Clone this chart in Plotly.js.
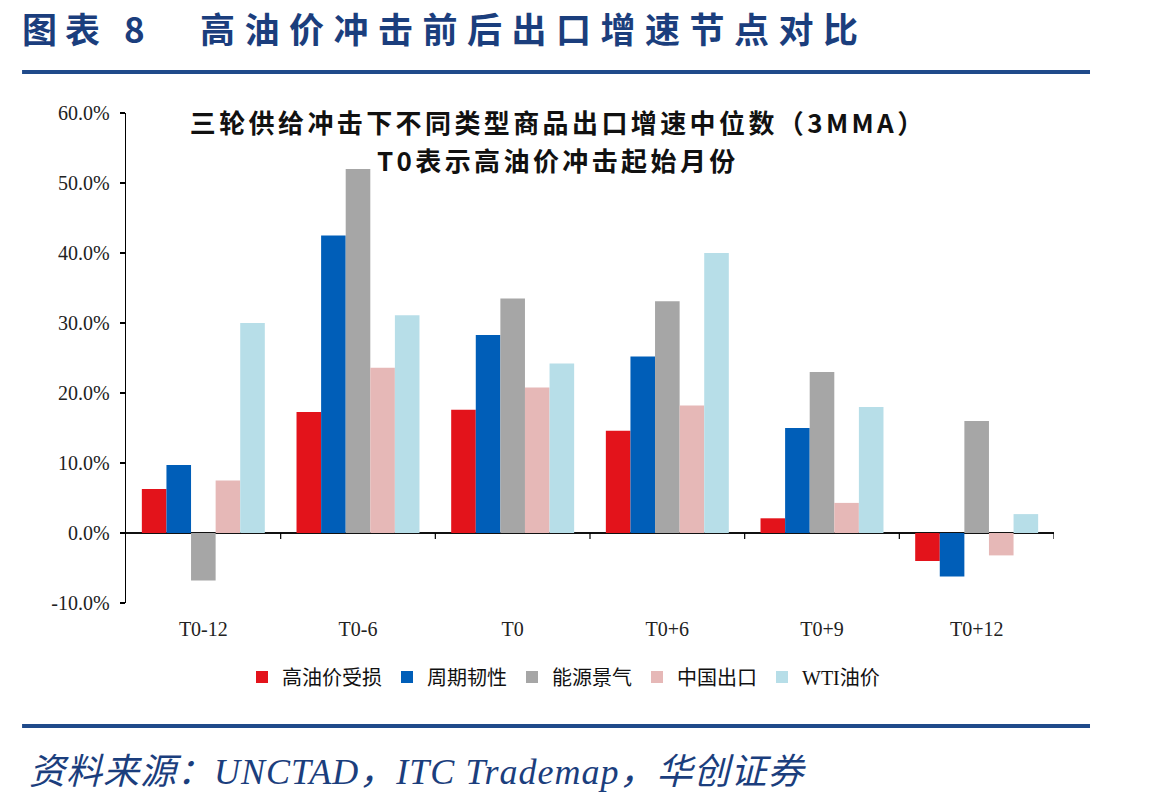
<!DOCTYPE html>
<html>
<head>
<meta charset="utf-8">
<script src="https://cdn.plot.ly/plotly-3.0.1.min.js"></script>
<style>
  html, body { margin: 0; padding: 0; background: #fff; }
  #chart { width: 1149px; height: 804px; }
  /* wider tracking for the figure heading, chart title and the source line */
  .annotation[data-index="0"] .annotation-text { letter-spacing: 8px; }
  .annotation[data-index="1"] .annotation-text { letter-spacing: 9.5px; }
  .annotation[data-index="2"] .annotation-text,
  .annotation[data-index="3"] .annotation-text { letter-spacing: 3.4px; }
  .annotation[data-index="4"] .annotation-text { letter-spacing: 1px; }
</style>
</head>
<body>
<div id="chart"></div>
<script>
// Shock windows (months relative to the start of the oil-price shock)
const categories = ['T0-12', 'T0-6', 'T0', 'T0+6', 'T0+9', 'T0+12'];

// Median export growth (3MMA), %
const highOilLoss   = [6.3, 17.3, 17.6, 14.6, 2.1, -4.0];   // 高油价受损
const cyclical      = [9.7, 42.5, 28.3, 25.2, 15.0, -6.2];  // 周期韧性
const energyBoom    = [-6.8, 52.0, 33.5, 33.1, 23.0, 16.0]; // 能源景气
const chinaExports  = [7.5, 23.6, 20.8, 18.2, 4.3, -3.2];   // 中国出口
const wtiOil        = [30.0, 31.1, 24.2, 40.0, 18.0, 2.7];  // WTI油价

const seriesNames  = ['高油价受损', '周期韧性', '能源景气', '中国出口', 'WTI油价'];
const seriesValues = [highOilLoss, cyclical, energyBoom, chinaExports, wtiOil];
const seriesColors = ['#E3131B', '#005EB8', '#A6A6A6', '#E6B8B7', '#B7DEE8'];

const yTicks = [-10, 0, 10, 20, 30, 40, 50, 60];

const navy = '#1B3E7D';
const serifCJK = 'Liberation Serif, Noto Sans CJK SC, serif';
const sansCJK = 'Noto Sans CJK SC, Noto Sans, sans-serif';

const traces = seriesNames.map((name, i) => ({
  type: 'bar',
  name: name,
  x: categories,
  y: seriesValues[i],
  marker: { color: seriesColors[i], line: { width: 0 } },
  hoverinfo: 'x+y+name'
}));

// small downward ticks on the zero line between categories
const boundaryTicks = categories.map((c, i) => ({
  type: 'line', xref: 'x', yref: 'y',
  x0: i + 0.5, x1: i + 0.5,
  ysizemode: 'pixel', yanchor: 0, y0: 0, y1: -6,
  line: { color: '#000', width: 1.2 }
}));

const layout = {
  width: 1149,
  height: 804,
  margin: { l: 126, r: 95, t: 113, b: 201 },
  paper_bgcolor: '#fff',
  plot_bgcolor: '#fff',
  barmode: 'group',
  bargap: 0.205,
  bargroupgap: 0,
  showlegend: true,
  legend: {
    orientation: 'h',
    x: 0.125, xanchor: 'left',
    y: -0.151, yanchor: 'middle',
    font: { family: serifCJK, size: 20, color: '#111' },
    itemwidth: 30,
    tracegroupgap: 0,
    bgcolor: 'rgba(0,0,0,0)'
  },
  xaxis: {
    type: 'category',
    range: [-0.5, 5.5],
    showline: false,
    showgrid: false,
    zeroline: false,
    ticks: 'outside',
    ticklen: 8,
    tickcolor: 'rgba(0,0,0,0)',
    tickfont: { family: 'Liberation Serif, serif', size: 20, color: '#222' },
    fixedrange: true
  },
  yaxis: {
    range: [-10, 60],
    tickvals: yTicks,
    ticktext: yTicks.map(v => v.toFixed(1) + '%'),
    showline: true,
    linecolor: '#000',
    linewidth: 1.3,
    ticks: 'outside',
    ticklen: 5,
    tickwidth: 1.2,
    tickcolor: '#000',
    ticklabelstandoff: 6,
    showgrid: false,
    zeroline: true,
    zerolinecolor: '#111',
    zerolinewidth: 1.6,
    tickfont: { family: 'Liberation Serif, serif', size: 20, color: '#222' },
    fixedrange: true
  },
  shapes: [
    ...boundaryTicks,
    { type: 'line', xref: 'paper', yref: 'paper', x0: -0.112, x1: 1.0388, y0: 1.0837, y1: 1.0837,
      line: { color: '#1F4A8A', width: 4 } },
    { type: 'line', xref: 'paper', yref: 'paper', x0: -0.112, x1: 1.0388, y0: -0.251, y1: -0.251,
      line: { color: '#1F4A8A', width: 4 } }
  ],
  annotations: [
    { text: '<b>图表 8</b>', xref: 'paper', yref: 'paper', x: -0.114, y: 1.1735,
      xanchor: 'left', yanchor: 'middle', align: 'left', showarrow: false,
      font: { family: sansCJK, size: 35, color: navy } },
    { text: '<b>高油价冲击前后出口增速节点对比</b>', xref: 'paper', yref: 'paper', x: 0.078, y: 1.1735,
      xanchor: 'left', yanchor: 'middle', align: 'left', showarrow: false,
      font: { family: sansCJK, size: 35, color: navy } },
    { text: '<b>三轮供给冲击下不同类型商品出口增速中位数（3MMA）</b>',
      xref: 'paper', yref: 'paper', x: 0.465, y: 0.982,
      xanchor: 'center', yanchor: 'middle', align: 'center', showarrow: false,
      font: { family: sansCJK, size: 26, color: '#111' } },
    { text: '<b>T0表示高油价冲击起始月份</b>',
      xref: 'paper', yref: 'paper', x: 0.465, y: 0.906,
      xanchor: 'center', yanchor: 'middle', align: 'center', showarrow: false,
      font: { family: sansCJK, size: 26, color: '#111' } },
    { text: '资料来源：UNCTAD，ITC Trademap，华创证券', xref: 'paper', yref: 'paper',
      x: -0.107, y: -0.345, xanchor: 'left', yanchor: 'middle', align: 'left', showarrow: false,
      font: { family: serifCJK, size: 36, color: navy, style: 'italic' } }
  ]
};

Plotly.newPlot('chart', traces, layout, { staticPlot: true, displayModeBar: false });
</script>
</body>
</html>
